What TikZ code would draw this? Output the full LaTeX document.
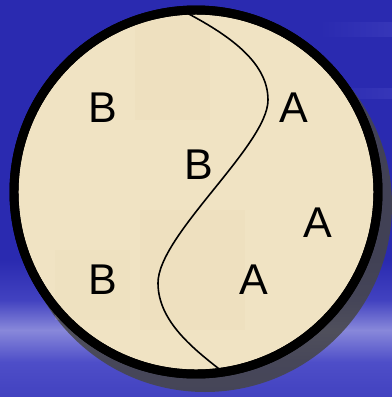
\documentclass[tikz,border=0pt]{standalone}
\usepackage{fontspec}
\setmainfont{Liberation Sans}
\usetikzlibrary{positioning}

\definecolor{bgdark}{RGB}{42,42,176}
\definecolor{bgmid}{RGB}{66,66,192}
\definecolor{bglight}{RGB}{136,136,218}
\definecolor{bglow}{RGB}{78,78,200}
\definecolor{parchment}{RGB}{240,227,195}
\definecolor{blotch}{RGB}{232,214,178}

\begin{document}
\begin{tikzpicture}[
    x=0.02cm, y=-0.02cm,
    letter/.style={font=\fontsize{24.5}{29}\selectfont, inner sep=0pt, text=black},
    rim/.style={draw=black, line width=5.1pt, fill=parchment},
    divide/.style={draw=black, line width=0.9pt}
]
\useasboundingbox (0,0) rectangle (392,397);
% background with streaks
\foreach \ya/\yb/\ca/\cb in {0/260/bgdark/bgdark, 260/300/bgdark/bgmid,
    300/330/bgmid/bglight, 330/362/bglight/bglow, 362/397/bglow/bgmid}{
  \shade[top color=\ca, bottom color=\cb] (0,\ya) rectangle (392,\yb);
}
\foreach \ya/\yb in {22/36, 88/98}{
  \shade[left color=bgdark, right color=bgmid!50!bgdark] (320,\ya) rectangle (392,\yb);
}
% shadow
\fill[gray!55!black, opacity=0.85] (205,205) circle[radius=187];
% disc
\path[rim] (196,192) circle[radius=182];
\fill[blotch, opacity=0.2] (135,20) rectangle (210,120);
\fill[blotch, opacity=0.2] (140,210) rectangle (245,330);
\fill[blotch, opacity=0.15] (55,250) rectangle (130,320);
\draw[rim, fill=none] (196,192) circle[radius=182];
% dividing curve
\coordinate (ctop) at (185,12);
\coordinate (cbot) at (223,372);
\draw[divide] (ctop) .. controls (235,38) and (268,65) .. (268,100)
  .. controls (268,145) and (158,235) .. (158,283)
  .. controls (158,322) and (195,350) .. (cbot);
% letters
\node[letter] (b1) at (103,108) {B};
\node[letter] (b2) at (199,165) {B};
\node[letter] (b3) at (103,280) {B};
\node[letter] (a1) at (294,108) {A};
\node[letter] (a2) at (318,223) {A};
\node[letter] (a3) at (254,280) {A};
\end{tikzpicture}
\end{document}
